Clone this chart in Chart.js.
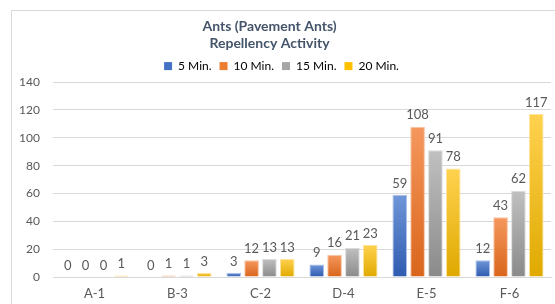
<!DOCTYPE html>
<html>
<head>
<meta charset="utf-8">
<script src="https://cdn.jsdelivr.net/npm/chart.js@4"></script>
<style>
  body { margin: 0; background: #fff; }
  #frame { position: absolute; left: 11px; top: 10px; width: 560px; height: 310px; border: 1px solid #d9d9d9; }
  #wrap { position: absolute; left: 0; top: 0; width: 555px; height: 304px; }
</style>
</head>
<body>
<div id="frame"></div>
<div id="wrap"><canvas id="chart"></canvas></div>
<script>
var categories = ['A-1', 'B-3', 'C-2', 'D-4', 'E-5', 'F-6'];
var seriesNames = ['5 Min.', '10 Min.', '15 Min.', '20 Min.'];
var min5 = [0, 0, 3, 9, 59, 12];
var min10 = [0, 1, 12, 16, 108, 43];
var min15 = [0, 1, 13, 21, 91, 62];
var min20 = [1, 3, 13, 23, 78, 117];
var yTicks = [0, 20, 40, 60, 80, 100, 120, 140];

var topColors = ['#7096d8', '#f5985e', '#c0c0c0', '#ffd24f'];
var bottomColors = ['#2e5bb0', '#d9651b', '#8a8a8a', '#dfa900'];
var edgeColors = ['#a9c0ea', '#f9c3a0', '#dcdcdc', '#ffe39a'];
var legendColors = ['#4472c4', '#ed7d31', '#a5a5a5', '#ffc000'];
var font = 'Lato, "Open Sans", sans-serif';

function barGradient(i) {
    return function (ctx) {
        var chart = ctx.chart;
        var y = chart.scales.y;
        if (!chart.chartArea || !y || ctx.raw === undefined) return legendColors[i];
        var top = y.getPixelForValue(ctx.raw);
        var base = y.getPixelForValue(0);
        if (base - top < 1) return topColors[i];
        var g = chart.ctx.createLinearGradient(0, top, 0, base);
        g.addColorStop(0, topColors[i]);
        g.addColorStop(1, bottomColors[i]);
        return g;
    };
}

// draws the value over each bar
var valueLabels = {
    id: 'valueLabels',
    afterLayout: function (chart) {
        // title sits a little left of centre in the original
        if (chart.titleBlock) {
            chart.titleBlock.left -= 12;
            chart.titleBlock.right -= 12;
        }
    },
    afterDatasetsDraw: function (chart) {
        var c = chart.ctx;
        c.save();
        c.font = '13px ' + font;
        c.fillStyle = '#595959';
        c.textAlign = 'center';
        c.textBaseline = 'bottom';
        chart.data.datasets.forEach(function (ds, i) {
            chart.getDatasetMeta(i).data.forEach(function (bar, j) {
                c.fillText(String(ds.data[j]), bar.x, bar.y - 5);
            });
        });
        c.restore();
    }
};

var allData = [min5, min10, min15, min20];
var datasets = allData.map(function (d, i) {
    return {
        label: seriesNames[i],
        data: d,
        backgroundColor: barGradient(i),
        borderColor: edgeColors[i],
        borderWidth: 1,
        categoryPercentage: 0.86,
        barPercentage: 0.82
    };
});

new Chart(document.getElementById('chart'), {
    type: 'bar',
    data: { labels: categories, datasets: datasets },
    options: {
        responsive: true,
        maintainAspectRatio: false,
        animation: false,
        layout: { padding: { left: 12, right: 4, top: 18.5, bottom: 0 } },
        plugins: {
            title: {
                display: true,
                text: ['Ants (Pavement Ants)', 'Repellency Activity'],
                color: '#44546a',
                font: { family: font, size: 14, weight: 'bold' },
                lineHeight: 1.2,
                padding: { top: 0, bottom: 0 }
            },
            legend: {
                position: 'top',
                labels: {
                    color: '#595959',
                    font: { family: font, size: 12 },
                    boxWidth: 8,
                    boxHeight: 8,
                    padding: 8,
                    generateLabels: function (chart) {
                        return seriesNames.map(function (n, i) {
                            return { text: n, fillStyle: legendColors[i], strokeStyle: legendColors[i], lineWidth: 0, datasetIndex: i };
                        });
                    }
                }
            },
            tooltip: { enabled: false }
        },
        scales: {
            x: {
                afterFit: function (scale) { scale.height = 27; },
                grid: { display: false, drawTicks: false },
                border: { color: '#d9d9d9' },
                ticks: { color: '#595959', font: { family: font, size: 13 }, padding: 9 }
            },
            y: {
                min: 0,
                max: 140,
                afterBuildTicks: function (scale) {
                    scale.ticks = yTicks.map(function (v) { return { value: v }; });
                },
                afterFit: function (scale) { scale.width = 41; },
                grid: { color: '#d9d9d9', drawTicks: false },
                border: { display: false },
                ticks: { color: '#595959', font: { family: font, size: 12 }, padding: 13 }
            }
        }
    },
    plugins: [valueLabels]
});
</script>
</body>
</html>
